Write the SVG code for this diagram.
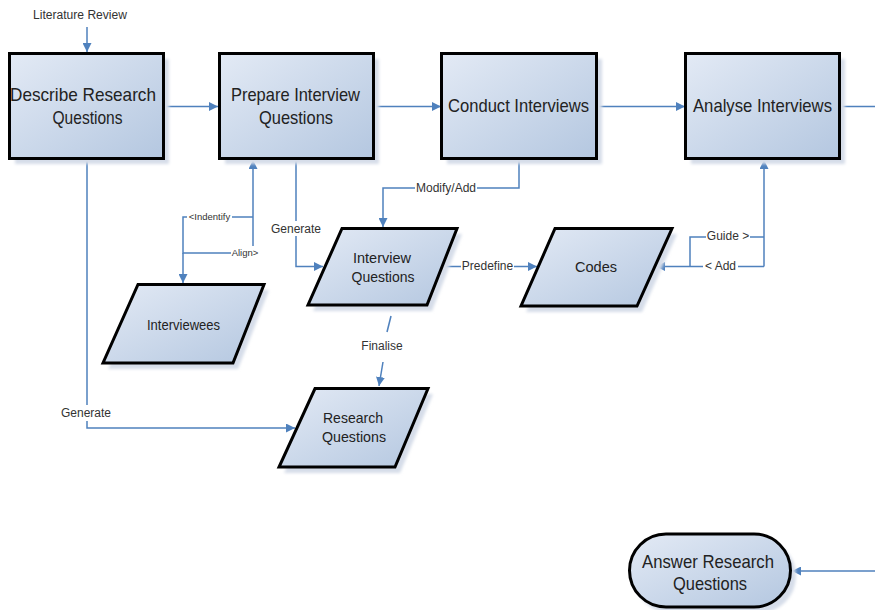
<svg xmlns="http://www.w3.org/2000/svg" width="875" height="610" viewBox="0 0 875 610">
<style>
.shape{fill:url(#g);stroke:#000;stroke-width:3;stroke-linejoin:miter}
.shadow{fill:#d6dde9;filter:url(#blur)}
.big{font-family:"Liberation Sans",Arial,sans-serif;font-size:19px;fill:#222;text-anchor:middle}
.mid{font-family:"Liberation Sans",Arial,sans-serif;font-size:15px;fill:#222;text-anchor:middle}
.lbl{font-family:"Liberation Sans",Arial,sans-serif;font-size:12px;fill:#333;text-anchor:middle}
.sm{font-family:"Liberation Sans",Arial,sans-serif;font-size:9.5px;fill:#333;text-anchor:middle}
.c{fill:none;stroke:#4f81bd;stroke-width:1.5}
.a{marker-end:url(#arr)}
.bg{fill:#fff}
</style>
<defs>
<linearGradient id="g" x1="0" y1="0" x2="1" y2="1">
<stop offset="0" stop-color="#e3eaf5"/>
<stop offset="1" stop-color="#b4c7e0"/>
</linearGradient>
<filter id="blur" x="-10%" y="-10%" width="120%" height="120%"><feGaussianBlur stdDeviation="1.5"/></filter>
<marker id="arr" viewBox="0 0 10 10" refX="10" refY="5" markerWidth="9" markerHeight="9" markerUnits="userSpaceOnUse" orient="auto">
<path d="M0,0 L10,5 L0,10 z" fill="#4f81bd"/>
</marker>
</defs>
<rect width="875" height="610" fill="#fff"/>

<g id="connectors">
<line class="c a" x1="87" y1="27" x2="87" y2="52"/>
<line class="c a" x1="164" y1="106.5" x2="218" y2="106.5"/>
<line class="c a" x1="374" y1="106.5" x2="441" y2="106.5"/>
<line class="c a" x1="598" y1="106.5" x2="685" y2="106.5"/>
<line class="c" x1="841" y1="106.5" x2="875" y2="106.5"/>
<line class="c a" x1="875" y1="571" x2="792" y2="571"/>
<polyline class="c a" points="87,160 87,428 295,428"/>
<polyline class="c a" points="296,160 296,266.5 323,266.5"/>
<line class="c a" x1="253" y1="253" x2="253" y2="160"/>
<polyline class="c" points="253,217 183,217 183,253 253,253"/>
<line class="c a" x1="183" y1="253" x2="183" y2="283"/>
<polyline class="c a" points="519,160 519,188 383,188 383,227"/>
<line class="c a" x1="441" y1="266.5" x2="537" y2="266.5"/>
<line class="c a" x1="764" y1="266.5" x2="656" y2="266.5"/>
<line class="c a" x1="764" y1="266.5" x2="764" y2="160"/>
<polyline class="c" points="690,266.5 690,237 764,237"/>
<line class="c" x1="391" y1="316" x2="387" y2="332"/>
<line class="c a" x1="383" y1="362" x2="379" y2="386"/>

<rect class="bg" x="61" y="405" width="50" height="16"/>
<text class="lbl" x="86" y="417">Generate</text>
<rect class="bg" x="271" y="221" width="50" height="15"/>
<text class="lbl" x="296" y="233">Generate</text>
<rect class="bg" x="187" y="211" width="45" height="11"/>
<text class="sm" x="209.5" y="220">&lt;Indentify</text>
<rect class="bg" x="231" y="246" width="28" height="12"/>
<text class="sm" x="245" y="256">Align&gt;</text>
<rect class="bg" x="415" y="181" width="62" height="14"/>
<text class="lbl" x="446" y="192">Modify/Add</text>
<rect class="bg" x="461" y="260" width="53" height="13"/>
<text class="lbl" x="487.5" y="270">Predefine</text>
<rect class="bg" x="703" y="260" width="35" height="13"/>
<text class="lbl" x="720.5" y="270">&lt; Add</text>
<rect class="bg" x="706" y="230" width="44" height="13"/>
<text class="lbl" x="728" y="240">Guide &gt;</text>
<text class="lbl" x="382" y="350">Finalise</text>
<text class="lbl" x="80" y="19" textLength="94" lengthAdjust="spacingAndGlyphs">Literature Review</text>
</g>

<g id="describe">
<rect class="shadow" x="15" y="59" width="154" height="105"/>
<rect class="shape" x="9.5" y="53.5" width="154" height="105"/>
<text class="big" x="83" y="101" textLength="146" lengthAdjust="spacingAndGlyphs">Describe Research</text>
<text class="big" x="87.5" y="123.5" textLength="70" lengthAdjust="spacingAndGlyphs">Questions</text>
</g>

<g id="prepare">
<rect class="shadow" x="225" y="59" width="154" height="105"/>
<rect class="shape" x="219.5" y="53.5" width="154" height="105"/>
<text class="big" x="295.5" y="101" textLength="129" lengthAdjust="spacingAndGlyphs">Prepare Interview</text>
<text class="big" x="296" y="123.5" textLength="74" lengthAdjust="spacingAndGlyphs">Questions</text>
</g>

<g id="conduct">
<rect class="shadow" x="447" y="59" width="155" height="105"/>
<rect class="shape" x="441.5" y="53.5" width="155" height="105"/>
<text class="big" x="518.5" y="112" textLength="141" lengthAdjust="spacingAndGlyphs">Conduct Interviews</text>
</g>

<g id="analyse">
<rect class="shadow" x="691" y="59" width="154" height="105"/>
<rect class="shape" x="685.5" y="53.5" width="154" height="105"/>
<text class="big" x="762.5" y="112" textLength="139" lengthAdjust="spacingAndGlyphs">Analyse Interviews</text>
</g>

<g id="interviewees">
<polygon class="shadow" points="143,290 269,290 238,369 108,369"/>
<polygon class="shape" points="138,284.5 264,284.5 233,363 103,363"/>
<text class="mid" x="183.5" y="330" textLength="73" lengthAdjust="spacingAndGlyphs">Interviewees</text>
</g>

<g id="interview-questions">
<polygon class="shadow" points="347,234 462,234 432,311 313,311"/>
<polygon class="shape" points="342,228.5 457,228.5 427,305 308,305"/>
<text class="mid" x="382" y="263" textLength="58" lengthAdjust="spacingAndGlyphs">Interview</text>
<text class="mid" x="383" y="282" textLength="63" lengthAdjust="spacingAndGlyphs">Questions</text>
</g>

<g id="codes">
<polygon class="shadow" points="560,234 677,234 642,312 526,312"/>
<polygon class="shape" points="555,228.5 672,228.5 637,306 521,306"/>
<text class="mid" x="596" y="272" textLength="42" lengthAdjust="spacingAndGlyphs">Codes</text>
</g>

<g id="research-questions">
<polygon class="shadow" points="320,394 433,394 400,473 284,473"/>
<polygon class="shape" points="315,388.5 428,388.5 395,467 279,467"/>
<text class="mid" x="353" y="423" textLength="60" lengthAdjust="spacingAndGlyphs">Research</text>
<text class="mid" x="354" y="442" textLength="64" lengthAdjust="spacingAndGlyphs">Questions</text>
</g>

<g id="answer">
<rect class="shadow" x="634" y="539" width="162" height="74" rx="37"/>
<rect class="shape" x="629.5" y="534" width="161" height="73" rx="36.5"/>
<text class="big" x="708" y="568" textLength="132" lengthAdjust="spacingAndGlyphs">Answer Research</text>
<text class="big" x="710" y="590" textLength="74" lengthAdjust="spacingAndGlyphs">Questions</text>
</g>
</svg>
